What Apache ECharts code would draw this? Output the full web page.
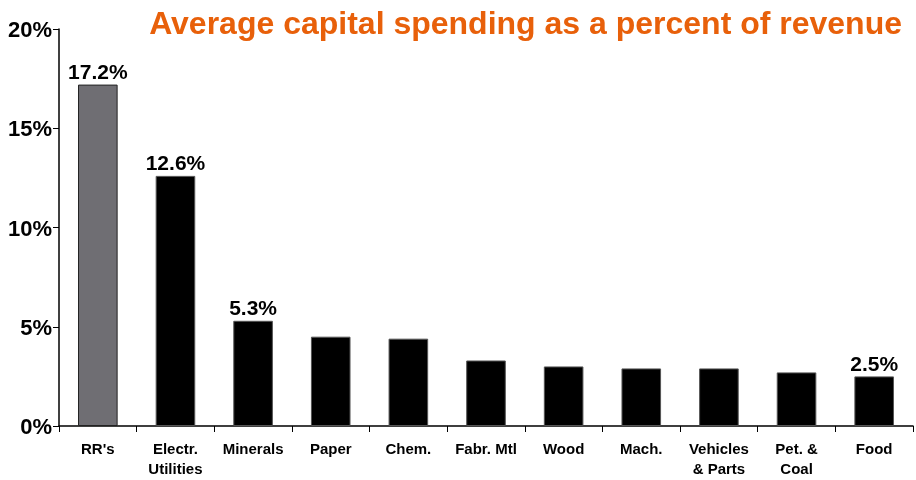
<!DOCTYPE html>
<html><head><meta charset="utf-8">
<script src="https://cdn.jsdelivr.net/npm/echarts@6/dist/echarts.min.js"></script>
<style>html,body{margin:0;padding:0;background:#fff}#c{width:916px;height:480px}</style>
</head><body><div id="c"></div>
<script>
const categories = ["RR's", "Electr.\nUtilities", "Minerals", "Paper", "Chem.", "Fabr. Mtl", "Wood", "Mach.", "Vehicles\n& Parts", "Pet. &\nCoal", "Food"];
const values = [17.2, 12.6, 5.3, 4.5, 4.4, 3.3, 3.0, 2.9, 2.9, 2.7, 2.5];
const labeled = [true, true, true, false, false, false, false, false, false, false, true];
const yTicks = [0, 5, 10, 15, 20];

const chart = echarts.init(document.getElementById('c'));
const font = 'Liberation Sans, Arial, sans-serif';
chart.setOption({
  animation: false,
  title: {
    text: 'Average capital spending as a percent of revenue',
    right: 9, top: 4,
    textStyle: { color: '#e8600a', fontSize: 32, fontWeight: 'bold', fontFamily: font }
  },
  grid: { left: 59, right: 3, top: 29, bottom: 46, containLabel: false },
  xAxis: {
    type: 'category', data: categories,
    axisLine: { lineStyle: { color: '#000', width: 1.5 } },
    axisTick: { show: true, length: 6, lineStyle: { color: '#000' }, alignWithLabel: false },
    axisLabel: { color: '#000', fontSize: 15, fontWeight: 'bold', fontFamily: font, margin: 14, lineHeight: 20, interval: 0 }
  },
  yAxis: {
    type: 'value', min: yTicks[0], max: yTicks[yTicks.length - 1], interval: 5,
    splitLine: { show: false },
    axisLine: { show: true, lineStyle: { color: '#000', width: 1.5 } },
    axisTick: { show: true, length: 6, lineStyle: { color: '#000' } },
    axisLabel: { color: '#000', fontSize: 22, fontWeight: 'bold', fontFamily: font, margin: 7, lineHeight: 22, verticalAlign: 'top', padding: [-9, 0, 0, 0], formatter: v => v + '%' }
  },
  series: [{
    type: 'bar', barWidth: '51%',
    data: values.map((v, i) => ({
      value: v,
      itemStyle: i === 0 ? { color: '#6f6e73', borderColor: '#222', borderWidth: 1 } : { color: '#000', borderColor: '#555', borderWidth: 1 },
      label: { show: labeled[i] }
    })),
    label: {
      position: 'top', distance: 1, color: '#000', fontSize: 21, fontWeight: 'bold', fontFamily: font,
      formatter: p => p.value.toFixed(1) + '%'
    }
  }]
});
</script></body></html>
